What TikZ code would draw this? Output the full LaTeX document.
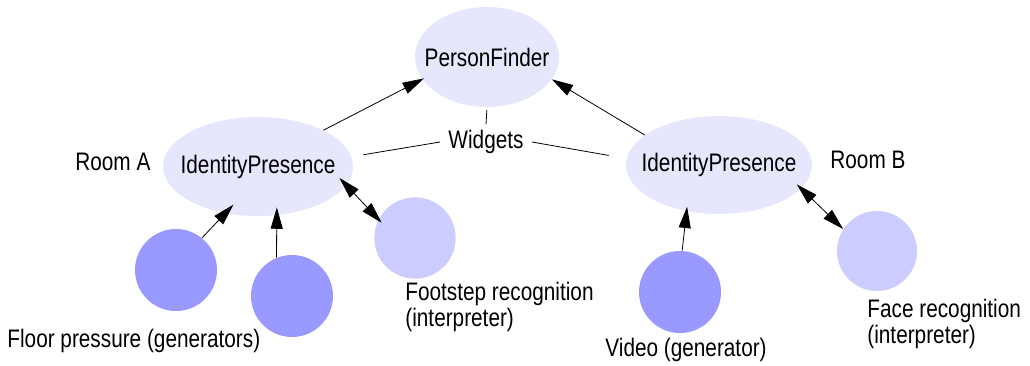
\documentclass[tikz,border=0pt]{standalone}
\usepackage{fontspec}
\setmainfont{Liberation Sans}[FakeStretch=0.82]
\usetikzlibrary{arrows.meta,shapes.geometric}

\definecolor{ellfill}{RGB}{230,230,252}
\definecolor{genfill}{RGB}{153,153,255}
\definecolor{intfill}{RGB}{204,204,255}
\newcommand{\diagfont}{\fontsize{19}{20}\selectfont}

\tikzset{every picture/.style={line width=0.6pt}}
\tikzset{
  every node/.style={font=\diagfont},
  widget/.style={ellipse, fill=ellfill, inner sep=0pt},
  gencircle/.style={circle, fill=genfill, minimum size=61.5pt, inner sep=0pt},
  intcircle/.style={circle, fill=intfill, minimum size=61pt, inner sep=0pt},
  label/.style={inner sep=0pt, anchor=west, align=left},
  arr/.style={-{Triangle[length=16pt,width=9pt]}},
  dblarr/.style={{Triangle[length=16pt,width=9pt]}-{Triangle[length=16pt,width=9pt]}},
}

\begin{document}
\begin{tikzpicture}[x=0.75pt,y=0.75pt,yscale=-1,xscale=1]
\useasboundingbox (0,0) rectangle (1030,365);

%Shape: Ellipse [id:pf]
\node (pf) at (487,57) [widget, minimum width=108pt, minimum height=75pt] {\makebox[0pt]{PersonFinder}};
%Shape: Ellipse [id:ipA]
\node (ipA) at (258,166.5) [widget, minimum width=142.5pt, minimum height=74.25pt] {\makebox[0pt]{IdentityPresence}};
%Shape: Ellipse [id:ipB]
\node (ipB) at (719,165) [widget, minimum width=139.5pt, minimum height=73.5pt] {\makebox[0pt]{IdentityPresence}};

%Shape: Circle [id:fp1]
\node (fp1) at (176,270) [gencircle] {};
%Shape: Circle [id:fp2]
\node (fp2) at (292,296) [gencircle] {};
%Shape: Circle [id:fs]
\node (fs) at (415,238) [intcircle] {};
%Shape: Circle [id:vid]
\node (vid) at (680,292) [gencircle] {};
%Shape: Circle [id:face]
\node (face) at (877,251) [intcircle, minimum size=60pt] {};

% Text Node
\node (wid) at (486,142) [inner xsep=6pt, inner ysep=4pt] {Widgets};
% Text Node
\node (roomA) at (75,162) [label] {Room A};
% Text Node
\node (roomB) at (830,160) [label] {Room B};
% Text Node
\node (fsLabel) at (405,307) [label] {Footstep recognition\\(interpreter)};
% Text Node
\node (fpLabel) at (7,341) [label] {Floor pressure (generators)};
% Text Node
\node (vidLabel) at (605,350) [label] {Video (generator)};
% Text Node
\node (faceLabel) at (867,324) [label] {Face recognition\\(interpreter)};

%Straight Lines [id:arrows up]
\draw [arr, shorten >=-1.5pt] (ipA.29) -- (pf.199.5);
\draw [arr] (ipB.158) -- (pf.-19);
\draw [arr, shorten >=-9pt] (fp1.51) -- (ipA.235.6);
\draw [arr, shorten >=-6pt] (fp2.112) -- (ipA.-69);
\draw [arr, shorten >=-3.5pt] (vid.87) -- (ipB.235);
%Straight Lines [id:two way]
\draw [dblarr, shorten <=-7.5pt, shorten >=-3.5pt] (ipA.-12) -- (fs.153);
\draw [dblarr, shorten <=-4.5pt] (ipB.-16) -- (face.147);
%Straight Lines [id:widgets]
\draw [shorten >=2pt] (wid.north) -- (pf.south);
\draw [shorten >=9pt] (wid.west) -- (ipA.6.6);
\draw [shorten >=13.5pt] (wid.east) -- (ipB.176);

\end{tikzpicture}
\end{document}
